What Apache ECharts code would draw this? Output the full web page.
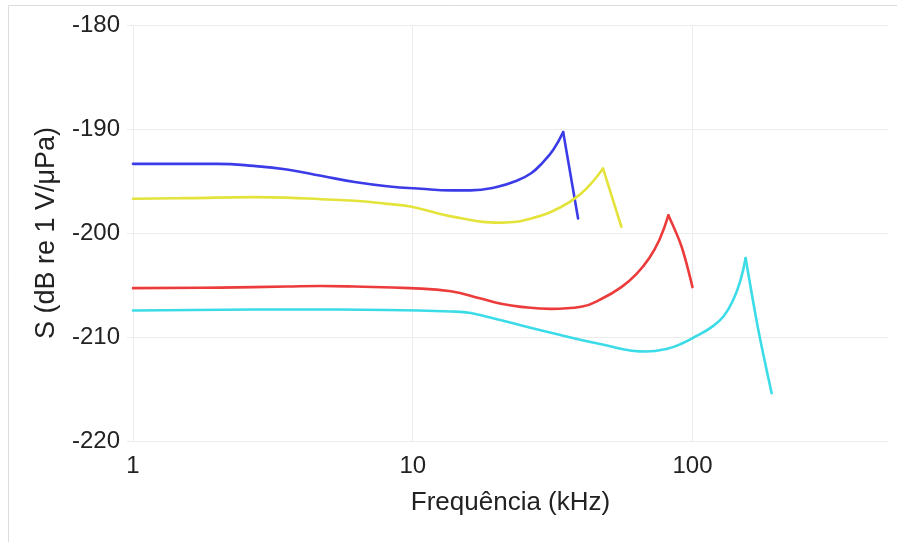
<!DOCTYPE html>
<html>
<head>
<meta charset="utf-8">
<script src="https://cdn.jsdelivr.net/npm/echarts@6/dist/echarts.min.js"></script>
<style>
html,body{margin:0;padding:0;background:#fff;}
#chart{width:897px;height:542px;}
</style>
</head>
<body>
<div id="chart"></div>
<script>
// Frequency (kHz) and sensitivity S (dB re 1 V/µPa) for each curve
var blueFreq   = [1, 2, 2.7, 3.55, 4.7, 6.2, 8.1, 10.7, 13.7, 16.1, 19.8, 23.4, 26.5, 29.2, 31.8, 34.5, 39];
var blueS      = [-193.35, -193.35, -193.55, -193.9, -194.5, -195.1, -195.5, -195.75, -195.9, -195.9, -195.6, -195.0, -194.25, -193.2, -192.0, -190.3, -198.6];

var yellowFreq = [1, 1.56, 2.7, 3.55, 4.7, 6.2, 8.1, 9.8, 13.7, 20.7, 26.5, 33.9, 40, 44.2, 47.9, 55.7];
var yellowS    = [-196.7, -196.65, -196.55, -196.6, -196.75, -196.9, -197.2, -197.45, -198.4, -199.0, -198.6, -197.5, -196.2, -195.0, -193.8, -199.4];

var redFreq    = [1, 2.05, 3.55, 4.7, 6.2, 9.8, 13.7, 17.5, 20.7, 24.4, 31.2, 40, 47.2, 55.7, 63, 70.1, 76.2, 82, 91.4, 100];
var redS       = [-205.3, -205.25, -205.15, -205.1, -205.15, -205.3, -205.6, -206.3, -206.8, -207.1, -207.3, -207.1, -206.35, -205.2, -203.95, -202.4, -200.65, -198.3, -201.3, -205.2];

var cyanFreq   = [1, 3.55, 8.1, 13.7, 16.1, 20.7, 31.2, 47.2, 68.4, 80.7, 91.3, 103.4, 117, 129.2, 140.3, 148.6, 154.9, 171.9, 191.9];
var cyanS      = [-207.45, -207.35, -207.4, -207.55, -207.7, -208.4, -209.6, -210.7, -211.4, -211.15, -210.65, -209.9, -209.05, -208.0, -206.35, -204.5, -202.4, -209.3, -215.4];

var xTicks = [1, 10, 100];
var yTicks = [-220, -210, -200, -190, -180];

var curves = [
  {name: 'A', freq: blueFreq, s: blueS, color: '#3b3be8'},
  {name: 'B', freq: yellowFreq, s: yellowS, color: '#e3e33c'},
  {name: 'C', freq: redFreq, s: redS, color: '#ec3b3b'},
  {name: 'D', freq: cyanFreq, s: cyanS, color: '#3cdbe8'}
];

var series = [];
curves.forEach(function (c) {
  var pts = c.freq.map(function (f, i) { return [f, c.s[i]]; });
  var peak = 0;
  c.s.forEach(function (v, i) { if (v > c.s[peak]) peak = i; });
  var common = {
    type: 'line', showSymbol: false, symbol: 'none',
    lineStyle: {color: c.color, width: 2.6, cap: 'round', join: 'round'},
    itemStyle: {color: c.color}, emphasis: {disabled: true}, silent: true, z: 3
  };
  series.push(Object.assign({}, common, {name: c.name, data: pts.slice(0, peak + 1), smooth: 0.45}));
  series.push(Object.assign({}, common, {name: c.name + '2', data: pts.slice(peak), smooth: 0.3}));
});

var chart = echarts.init(document.getElementById('chart'), null, {renderer: 'canvas'});
chart.setOption({
  animation: false,
  backgroundColor: '#fff',
  graphic: [{
    type: 'rect', silent: true, z: -10,
    shape: {x: 8.5, y: 5.5, width: 900, height: 545},
    style: {fill: 'none', stroke: '#dcdcdc', lineWidth: 1}
  }],
  grid: {left: 133, right: 9, top: 25, bottom: 101, containLabel: false},
  xAxis: {
    type: 'log', logBase: 10, min: 1, max: 500,
    name: 'Frequência (kHz)', nameLocation: 'middle', nameGap: 49,
    nameTextStyle: {fontFamily: 'Liberation Sans, Arial, sans-serif', fontSize: 26, color: '#222'},
    axisLine: {show: false},
    axisTick: {show: false},
    minorTick: {show: false},
    axisLabel: {
      fontFamily: 'Liberation Sans, Arial, sans-serif', fontSize: 24, color: '#222', margin: 13,
      showMaxLabel: false,
      formatter: function (v) { return xTicks.indexOf(Math.round(v)) >= 0 ? String(Math.round(v)) : ''; }
    },
    splitLine: {show: true, showMaxLine: false, lineStyle: {color: '#ececec', width: 1}}
  },
  yAxis: {
    type: 'value', min: -220, max: -180, interval: 10,
    name: 'S (dB re 1 V/μPa)', nameLocation: 'middle', nameGap: 73,
    nameTextStyle: {fontFamily: 'Liberation Sans, Arial, sans-serif', fontSize: 27, color: '#222'},
    axisLine: {show: false},
    axisTick: {show: true, length: 6, lineStyle: {color: '#ececec'}},
    axisLabel: {
      fontFamily: 'Liberation Sans, Arial, sans-serif', fontSize: 24, color: '#222', margin: 13,
      formatter: function (v) { return yTicks.indexOf(v) >= 0 ? String(v) : ''; }
    },
    splitLine: {show: true, lineStyle: {color: '#ececec', width: 1}}
  },
  series: series
});
</script>
</body>
</html>
